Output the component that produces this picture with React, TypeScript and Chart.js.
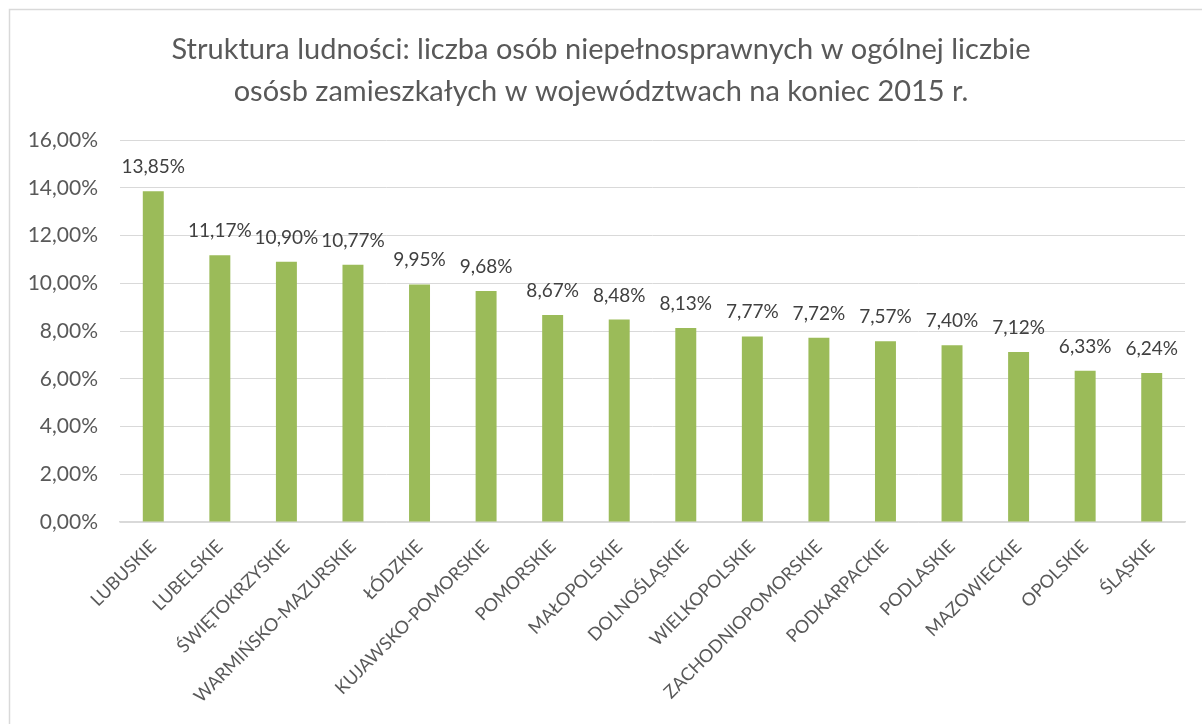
import React, { useEffect, useRef } from "react";
import { Chart, registerables } from "chart.js";

Chart.register(...registerables);

const categories: string[] = [
  "LUBUSKIE",
  "LUBELSKIE",
  "ŚWIĘTOKRZYSKIE",
  "WARMIŃSKO-MAZURSKIE",
  "ŁÓDZKIE",
  "KUJAWSKO-POMORSKIE",
  "POMORSKIE",
  "MAŁOPOLSKIE",
  "DOLNOŚLĄSKIE",
  "WIELKOPOLSKIE",
  "ZACHODNIOPOMORSKIE",
  "PODKARPACKIE",
  "PODLASKIE",
  "MAZOWIECKIE",
  "OPOLSKIE",
  "ŚLĄSKIE",
];

const shareDisabled: number[] = [
  13.85, 11.17, 10.9, 10.77, 9.95, 9.68, 8.67, 8.48, 8.13, 7.77, 7.72, 7.57, 7.4, 7.12, 6.33, 6.24,
];

const titleLines: string[] = [
  "Struktura ludności: liczba osób niepełnosprawnych w ogólnej liczbie",
  "osósb zamieszkałych w województwach na koniec 2015 r.",
];

const yMin = 0;
const yMax = 16;
const yStep = 2;

const FONT = "Lato, 'Open Sans', sans-serif";
const fmt = (v: number) => v.toFixed(2).replace(".", ",") + "%";

export default function App() {
  const ref = useRef<HTMLCanvasElement | null>(null);

  useEffect(() => {
    const canvas = ref.current;
    if (!canvas) return;

    const framePlugin = {
      id: "frame",
      beforeDraw(chart: any) {
        const ctx = chart.ctx;
        ctx.save();
        ctx.fillStyle = "#ffffff";
        ctx.fillRect(0, 0, chart.width, chart.height);
        ctx.strokeStyle = "#D9D9D9";
        ctx.lineWidth = 1.5;
        ctx.strokeRect(9.5, 9.5, chart.width + 20, chart.height + 20);
        ctx.restore();
      },
      afterDraw(chart: any) {
        const ctx = chart.ctx;
        ctx.save();
        ctx.fillStyle = "#595959";
        ctx.font = `29px ${FONT}`;
        ctx.textAlign = "center";
        ctx.textBaseline = "alphabetic";
        ctx.fillText(titleLines[0], 601, 59);
        ctx.fillText(titleLines[1], 601, 101);
        ctx.restore();
      },
    };

    const labelPlugin = {
      id: "barLabels",
      afterDatasetsDraw(chart: any) {
        const ctx = chart.ctx;
        const meta = chart.getDatasetMeta(0);
        ctx.save();
        ctx.fillStyle = "#404040";
        ctx.font = `19px ${FONT}`;
        ctx.textAlign = "center";
        ctx.textBaseline = "alphabetic";
        meta.data.forEach((bar: any, i: number) => {
          const v = chart.data.datasets[0].data[i] as number;
          ctx.fillText(fmt(v), bar.x, bar.y - 18);
        });
        ctx.restore();
      },
    };

    const chart = new Chart(canvas, {
      type: "bar",
      data: {
        labels: categories,
        datasets: [
          {
            data: shareDisabled,
            backgroundColor: "#9BBB59",
            borderWidth: 0,
            categoryPercentage: 1,
            barPercentage: 0.315,
          },
        ],
      },
      options: {
        animation: false,
        responsive: false,
        devicePixelRatio: 1,
        layout: { padding: { left: 0, right: 17, top: 140, bottom: 0 } },
        plugins: {
          legend: { display: false },
          title: { display: false },
          tooltip: { enabled: false },
        },
        scales: {
          x: {
            grid: { display: false, drawTicks: false },
            border: { display: true, color: "#D9D9D9", width: 1.5 },
            ticks: {
              color: "#595959",
              font: { family: FONT, size: 18 },
              minRotation: 45,
              maxRotation: 45,
              padding: 14,
              autoSkip: false,
            },
            afterFit(scale: any) {
              scale.height = 202;
            },
          },
          y: {
            min: yMin,
            max: yMax,
            grid: { color: "#D9D9D9", lineWidth: 1, drawTicks: false },
            border: { display: false },
            ticks: {
              stepSize: yStep,
              color: "#595959",
              font: { family: FONT, size: 21 },
              padding: 22,
              callback: (v: any) => fmt(Number(v)),
            },
            afterFit(scale: any) {
              scale.width = 120;
            },
          },
        },
      },
      plugins: [framePlugin, labelPlugin],
    });

    return () => chart.destroy();
  }, []);

  return (
    <div style={{ position: "fixed", left: 0, top: 0, width: 1202, height: 724, background: "#fff" }}>
      <canvas ref={ref} width={1202} height={724} style={{ display: "block" }} />
    </div>
  );
}
